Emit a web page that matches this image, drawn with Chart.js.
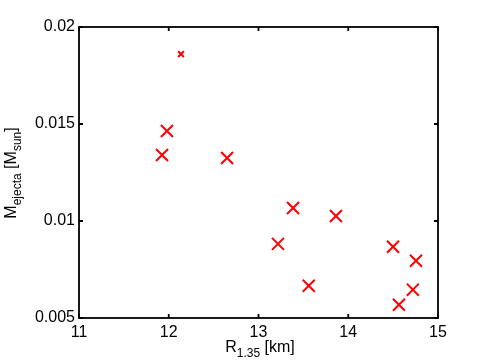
<!DOCTYPE html>
<html>
<head>
<meta charset="utf-8">
<script src="https://cdn.jsdelivr.net/npm/chart.js@4.4.1/dist/chart.umd.min.js"></script>
<style>
  html, body { margin: 0; padding: 0; background: #fff; }
  #wrap { width: 485px; height: 364px; }
</style>
</head>
<body>
<div id="wrap"><canvas id="ejectaChart"></canvas></div>
<script>
// R_1.35 [km] vs ejecta mass [M_sun]
const radius = [11.98, 11.925, 12.65, 13.385, 13.217, 13.863, 13.56, 14.499, 14.755, 14.72, 14.565];
const ejecta = [0.01464, 0.0134, 0.01325, 0.01067, 0.00882, 0.01026, 0.00666, 0.00867, 0.00795, 0.00646, 0.00568];
// the one small marker near the top
const radiusSmall = [12.136];
const ejectaSmall = [0.0186];

const xTicks = [11, 12, 13, 14, 15];
const yTicks = [0.005, 0.01, 0.015, 0.02];
const yTickLabels = ['0.005', '0.01', '0.015', '0.02'];

const FONT = '"Liberation Sans", Arial, sans-serif';

function toPoints(xs, ys) {
  return xs.map((x, i) => ({ x: x, y: ys[i] }));
}

// draws text with subscript parts, centred on (cx, baseline)
function drawRich(ctx, parts, cx, baseY) {
  const big = '16px ' + FONT, small = '12px ' + FONT;
  let total = 0;
  parts.forEach(p => { ctx.font = p.sub ? small : big; total += ctx.measureText(p.t).width; });
  let x = cx - total / 2;
  ctx.textAlign = 'left';
  ctx.textBaseline = 'alphabetic';
  parts.forEach(p => {
    ctx.font = p.sub ? small : big;
    ctx.fillText(p.t, x, baseY + (p.sub ? 5 : 0));
    x += ctx.measureText(p.t).width;
  });
}

const framePlugin = {
  id: 'frame',
  afterDraw(chart) {
    const ctx = chart.ctx;
    const a = chart.chartArea;
    const xs = chart.scales.x, ys = chart.scales.y;
    ctx.save();
    ctx.strokeStyle = '#000';
    ctx.lineWidth = 1.8;
    ctx.strokeRect(a.left, a.top, a.right - a.left, a.bottom - a.top);
    // inward ticks on every side
    const tl = 4;
    ctx.beginPath();
    xTicks.forEach(v => {
      const px = xs.getPixelForValue(v);
      ctx.moveTo(px, a.bottom); ctx.lineTo(px, a.bottom - tl);
      ctx.moveTo(px, a.top); ctx.lineTo(px, a.top + tl);
    });
    yTicks.forEach(v => {
      const py = ys.getPixelForValue(v);
      ctx.moveTo(a.left, py); ctx.lineTo(a.left + tl, py);
      ctx.moveTo(a.right, py); ctx.lineTo(a.right - tl, py);
    });
    ctx.stroke();

    ctx.fillStyle = '#000';
    drawRich(ctx, [{ t: 'R' }, { t: '1.35', sub: true }, { t: ' [km]' }], 260, 352);
    ctx.translate(16, 173);
    ctx.rotate(-Math.PI / 2);
    drawRich(ctx, [{ t: 'M' }, { t: 'ejecta', sub: true }, { t: ' [M' }, { t: 'sun', sub: true }, { t: ']' }], 0, 0);
    ctx.restore();
  }
};

const ctx = document.getElementById('ejectaChart').getContext('2d');
new Chart(ctx, {
  type: 'scatter',
  data: {
    datasets: [
      {
        label: 'ejecta',
        data: toPoints(radius, ejecta),
        pointStyle: 'crossRot',
        pointRadius: 8.5,
        borderColor: '#ff0000',
        borderWidth: 2
      },
      {
        label: 'small',
        data: toPoints(radiusSmall, ejectaSmall),
        pointStyle: 'crossRot',
        pointRadius: 4,
        borderColor: '#ff0000',
        borderWidth: 2
      }
    ]
  },
  options: {
    responsive: true,
    maintainAspectRatio: false,
    animation: false,
    layout: { padding: { left: 0, top: 27, right: 47, bottom: 0 } },
    plugins: { legend: { display: false }, tooltip: { enabled: false } },
    scales: {
      x: {
        type: 'linear',
        min: 11, max: 15,
        afterFit(s) { s.height = 46; },
        afterBuildTicks(s) { s.ticks = xTicks.map(v => ({ value: v })); },
        grid: { display: false, drawTicks: false },
        border: { display: false },
        ticks: { color: '#000', padding: 5, font: { family: FONT, size: 16 }, maxRotation: 0 }
      },
      y: {
        type: 'linear',
        min: 0.005, max: 0.02,
        afterFit(s) { s.width = 79; },
        afterBuildTicks(s) { s.ticks = yTicks.map(v => ({ value: v })); },
        grid: { display: false, drawTicks: false },
        border: { display: false },
        ticks: {
          color: '#000', padding: 4, font: { family: FONT, size: 16 },
          callback: (v) => yTickLabels[yTicks.indexOf(v)]
        }
      }
    }
  },
  plugins: [framePlugin]
});
</script>
</body>
</html>
